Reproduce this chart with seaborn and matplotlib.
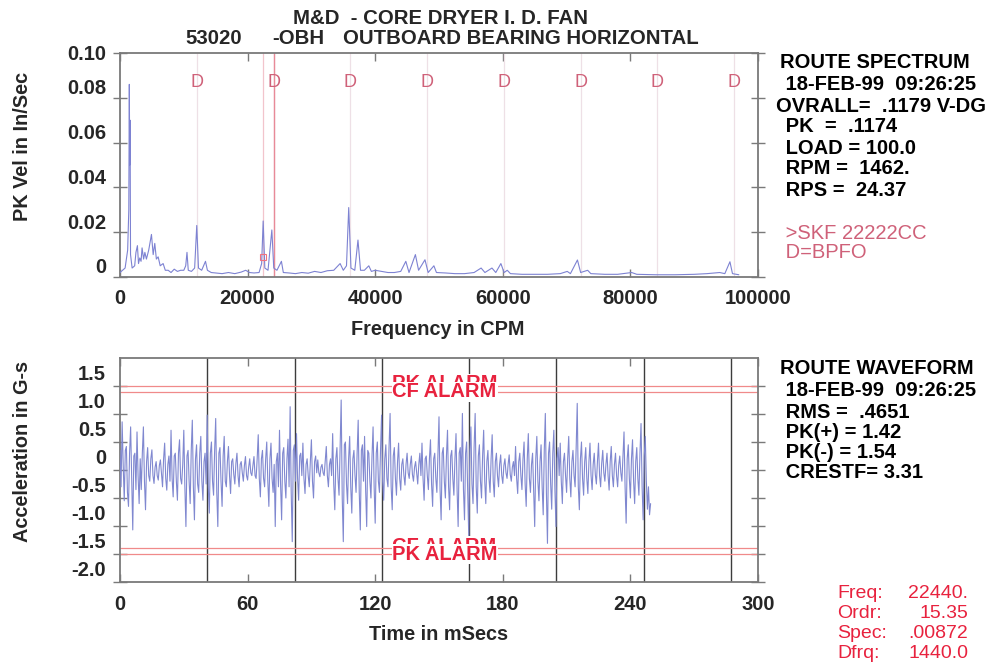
import numpy as np
import pandas as pd
import matplotlib
matplotlib.use("Agg")
import matplotlib.pyplot as plt
import matplotlib.transforms as mtransforms
import seaborn as sns

# ---------------- data ----------------
title_line1 = "M&D  - CORE DRYER I. D. FAN"
title_id = "53020"
title_point = "-OBH"
title_desc = "OUTBOARD BEARING HORIZONTAL"

spectrum_info = ["ROUTE SPECTRUM", " 18-FEB-99  09:26:25", "OVRALL=  .1179 V-DG",
                 " PK  =  .1174", " LOAD = 100.0", " RPM =  1462.", " RPS =  24.37"]
bearing_info = [" >SKF 22222CC", " D=BPFO"]
waveform_info = ["ROUTE WAVEFORM", " 18-FEB-99  09:26:25", " RMS =  .4651",
                 " PK(+) = 1.42", " PK(-) = 1.54", " CRESTF= 3.31"]
cursor_keys = ["Freq:", "Ordr:", "Spec:", "Dfrq:"]
cursor_vals = ["22440.", "15.35", ".00872", "1440.0"]

# spectrum (CPM, in/sec pk)
spec_freq = [0, 800, 1200, 1380, 1460, 1520, 1580, 1650, 1900, 2300, 2500, 2730, 2900, 3100,
             3300, 3460, 3700, 3900, 4140, 4500, 4930, 5200, 5450, 5700, 5980, 6300, 6760, 7100,
             7550, 8000, 8500, 9000, 9500, 10000, 10300, 10500, 10700, 11200, 11700, 12030, 12300,
             12800, 13400, 13700, 14300, 15000, 16000, 17000, 18000, 19000, 19700, 20300, 21000,
             21800, 22200, 22440, 22700, 23200, 23800, 24100, 24600, 25300, 25600, 26500, 27500,
             28500, 29500, 30500, 31500, 32500, 33500, 34500, 35000, 35500, 35850, 36200, 36800,
             37300, 37700, 38300, 39000, 39400, 40000, 41000, 42000, 43000, 44000, 44800, 45300,
             46300, 46800, 47800, 48300, 49200, 49600, 51000, 52500, 54000, 55500, 56600, 57200,
             58300, 58900, 59700, 60200, 60700, 61200, 63000, 65000, 67000, 69000, 70100, 70600,
             71700, 72200, 73300, 73800, 76000, 78000, 80200, 81000, 84000, 87000, 90000, 92000,
             94000, 94800, 95600, 96000, 97000]
spec_amp = [0.002, 0.004, 0.012, 0.030, 0.086, 0.050, 0.070, 0.010, 0.004, 0.005, 0.011, 0.014,
            0.006, 0.0085, 0.007, 0.013, 0.008, 0.011, 0.008, 0.012, 0.019, 0.010, 0.015, 0.008,
            0.009, 0.005, 0.006, 0.003, 0.003, 0.002, 0.0035, 0.0025, 0.003, 0.003, 0.005, 0.011,
            0.003, 0.0025, 0.004, 0.023, 0.004, 0.003, 0.007, 0.003, 0.002, 0.0018, 0.0015, 0.002,
            0.0015, 0.0022, 0.003, 0.002, 0.0018, 0.002, 0.006, 0.025, 0.004, 0.003, 0.021, 0.004,
            0.003, 0.007, 0.002, 0.0018, 0.0015, 0.002, 0.0017, 0.0025, 0.002, 0.0028, 0.003,
            0.006, 0.003, 0.005, 0.031, 0.004, 0.003, 0.0165, 0.003, 0.003, 0.005, 0.0025, 0.003,
            0.0025, 0.002, 0.002, 0.0025, 0.007, 0.002, 0.010, 0.003, 0.0077, 0.002, 0.005, 0.002,
            0.0018, 0.0015, 0.0015, 0.002, 0.004, 0.002, 0.004, 0.002, 0.006, 0.002, 0.003, 0.0015,
            0.0012, 0.0012, 0.0012, 0.0015, 0.0025, 0.0015, 0.0076, 0.002, 0.003, 0.0015, 0.0012,
            0.0012, 0.002, 0.0012, 0.001, 0.001, 0.0012, 0.0015, 0.002, 0.0015, 0.0068, 0.0015,
            0.001]

bpfo_cpm = 12030
bpfo_harmonics = [1, 2, 3, 4, 5, 6, 7, 8]
marked_harmonic = 2
cursor_freq = 22440
cursor_spec = 0.00872

rpm = 1462
revolutions = [1, 2, 3, 4, 5, 6, 7]
alarm_pk = 1.5
alarm_cf = 1.4

# waveform (G-s): samples on whole ms ...
wave_dt_ms = 0.5
wave_g = [
    0.35, 0.86, -0.55, 0.42, -0.65, 0.77, -1.07, 0.30, 0.68, -0.60,
    -0.35, 0.77, -0.71, 0.40, -0.20, 0.36, -0.24, 0.15, -0.18, 0.18,
    -0.30, 0.48, -0.36, 0.25, 0.71, -0.48, 0.30, -0.54, 0.54, -0.25,
    0.71, -1.01, 0.35, -0.60, 0.89, -0.89, 0.45, -0.40, 0.60, -0.54,
    0.30, 0.98, -0.77, 0.50, -0.45, 0.92, -1.01, 0.40, -0.65, 0.60,
    -0.30, 0.42, -0.42, 0.20, -0.25, 0.30, -0.30, 0.15, -0.20, 0.24,
    -0.18, 0.20, -0.10, 0.24, -0.15, 0.63, -0.48, 0.35, -0.30, 0.50,
    -0.65, 0.48, -0.40, -1.01, 0.30, 0.71, -0.89, 0.40, -0.50, 0.55,
    1.13, -1.28, 0.45, 0.65, -0.54, 0.30, 0.48, -0.42, 0.20, -0.30,
    0.54, -0.50, 0.25, 0.18, -0.12, 0.10, -0.10, 0.42, -0.30, 0.20,
    0.65, -0.71, 0.40, -0.45, 1.25, -1.28, 0.50, -0.60, 0.60, -0.77,
    0.35, -0.40, 0.89, -1.07, 0.45, 0.60, -1.01, 0.30, -0.50, 0.77,
    -0.95, 0.50, -0.40, 0.98, -0.54, 0.45, -0.30, 1.01, -0.71, 0.40,
    -0.45, 0.48, -0.36, 0.20, -0.27, 0.30, -0.15, 0.25, -0.20, 0.15,
    -0.25, 0.30, 0.48, -0.54, 0.25, -0.35, 0.54, -0.65, 0.30, -0.40,
    0.95, -0.89, 0.40, -0.50, 0.71, -0.71, 0.35, -0.45, 0.65, -1.01,
    0.40, 1.01, -0.89, 0.50, -1.19, 0.77, -0.60, 1.01, -0.77, 0.45,
    -0.50, 0.71, -0.60, 0.35, -0.40, 0.63, -0.48, 0.30, -0.30, 0.27,
    -0.24, 0.20, -0.15, 0.27, -0.20, 0.15, 0.42, -0.42, 0.30, -0.35,
    0.50, -0.65, 0.65, -0.40, 0.30, -1.01, 0.60, -0.55, 0.45, -0.80,
    1.01, -1.31, 0.50, -0.70, 0.71, -1.01, 0.40, 0.48, -0.60, 0.30,
    -0.40, 0.60, -0.48, 0.35, -0.30, 1.19, -0.71, 0.50, -0.45, 0.40,
    -0.42, 0.48, -0.35, 0.30, -0.25, 0.48, -0.30, 0.35, -0.20, 0.30,
    -0.36, 0.42, -0.30, 0.30, -0.30, 0.25, -0.20, 0.68, -0.95, 0.45,
    -0.50, 0.54, -0.60, 0.40, -0.45, 0.83, -0.89, 0.60, -0.70, -0.80,
]
# ... and the samples half a ms later
wave_g_half = [
    -0.30, 0.10, 0.35, -0.40, 0.30, -0.20, 0.25, -0.35, -0.10, 0.20,
    0.30, -0.20, 0.15, -0.10, 0.20, -0.10, 0.05, -0.10, 0.08, -0.05,
    0.20, -0.15, 0.10, -0.20, -0.15, 0.25, -0.20, 0.30, -0.15, 0.10,
    -0.30, 0.25, -0.20, 0.35, -0.30, 0.20, -0.25, 0.30, -0.20, 0.15,
    -0.25, -0.30, 0.30, -0.20, 0.35, -0.40, 0.30, -0.20, 0.25, -0.20,
    0.15, -0.10, 0.15, -0.08, 0.12, -0.10, 0.10, -0.05, 0.08, -0.10,
    0.05, -0.05, 0.08, -0.10, 0.20, -0.15, 0.20, -0.15, 0.20, -0.20,
    0.20, -0.15, 0.10, 0.15, -0.30, -0.25, 0.30, -0.20, 0.20, -0.30,
    -0.40, 0.35, -0.20, -0.15, 0.25, -0.10, -0.15, 0.10, -0.10, 0.15,
    -0.20, 0.15, -0.05, -0.05, 0.05, -0.05, 0.15, -0.10, 0.10, -0.10,
    -0.25, 0.20, -0.15, 0.40, -0.50, 0.45, -0.25, 0.20, -0.30, 0.20,
    -0.10, 0.30, -0.40, 0.35, -0.20, -0.35, 0.35, -0.20, 0.25, -0.30,
    0.30, -0.20, 0.35, -0.20, 0.20, -0.15, 0.40, -0.30, 0.25, -0.15,
    0.15, -0.15, 0.10, -0.10, 0.10, -0.05, 0.10, -0.08, 0.05, -0.05,
    0.10, -0.10, -0.15, 0.20, -0.10, 0.20, -0.25, 0.20, -0.15, 0.25,
    -0.35, 0.30, -0.20, 0.25, -0.30, 0.25, -0.15, 0.20, -0.35, 0.30,
    -0.20, -0.35, 0.30, -0.40, 0.35, -0.25, 0.40, -0.30, 0.25, -0.20,
    0.25, -0.20, 0.15, -0.15, 0.20, -0.20, 0.15, -0.10, 0.10, -0.10,
    0.08, -0.05, 0.10, -0.08, 0.05, -0.10, -0.15, 0.15, -0.10, 0.20,
    -0.25, 0.20, -0.15, 0.10, -0.35, 0.20, -0.20, 0.15, -0.30, 0.35,
    -0.40, 0.30, -0.25, 0.30, -0.35, 0.20, -0.10, -0.20, 0.15, -0.10,
    0.20, -0.15, 0.15, -0.10, 0.40, -0.30, 0.20, -0.15, 0.15, -0.15,
    0.15, -0.10, 0.10, -0.08, 0.15, -0.10, 0.12, -0.05, 0.10, -0.10,
    0.15, -0.10, 0.10, -0.10, 0.08, -0.05, 0.25, -0.30, 0.20, -0.15,
    0.20, -0.20, 0.15, -0.15, 0.30, -0.30, 0.25, -0.20, -0.30, -0.60,
]

spec_xticks = [0, 20000, 40000, 60000, 80000, 100000]
spec_yticks = [0, 0.02, 0.04, 0.06, 0.08, 0.10]
spec_yticklabels = ["0", "0.02", "0.04", "0.06", "0.08", "0.10"]
wave_xticks = [0, 60, 120, 180, 240, 300]
wave_yticks = [-2.0, -1.5, -1.0, -0.5, 0, 0.5, 1.0, 1.5]
wave_yticklabels = ["-2.0", "-1.5", "-1.0", "-0.5", "0", "0.5", "1.0", "1.5"]

# ---------------- style ----------------
sns.set_theme(style="white")
plt.rcParams["font.family"] = ["Liberation Sans", "DejaVu Sans"]
plt.rcParams["font.weight"] = "bold"
plt.rcParams["axes.labelweight"] = "bold"

W, H = 992, 666
fig = plt.figure(figsize=(W / 100, H / 100), dpi=100)
fig.patch.set_facecolor("white")

def px_ax(left, top, right, bottom):
    return fig.add_axes([left / W, 1 - bottom / H, (right - left) / W, (bottom - top) / H])

ax1 = px_ax(120, 53, 758, 277)
ax2 = px_ax(120, 358, 758, 582)

SPEC_C = "#7d82d2"
WAVE_C = "#8088d0"
RED = "#e8223e"
PINK = "#cf6179"
FRAME = "#7a7a7a"
FS = 14.5

# ---------------- spectrum ----------------
spec_df = pd.DataFrame({"freq": spec_freq, "amp": spec_amp})
for h in bpfo_harmonics:
    ax1.axvline(h * bpfo_cpm, color="#eee0e6", lw=0.9, zorder=1)
    ax1.text(h * bpfo_cpm, 0.87, "D", transform=ax1.get_xaxis_transform(), ha="center",
             va="center", color=PINK, fontsize=13, fontweight="normal", zorder=4)
ax1.axvline(cursor_freq, color="#f2c4cc", lw=0.9, zorder=1)
ax1.axvline(marked_harmonic * bpfo_cpm, color="#e88a98", lw=1.0, zorder=2)
sns.lineplot(data=spec_df, x="freq", y="amp", ax=ax1, color=SPEC_C, lw=0.8,
             estimator=None, sort=False, zorder=3)
ax1.plot([cursor_freq], [cursor_spec], marker="s", ms=4, mfc="none", mec="#f07080",
         mew=0.8, zorder=4)
ax1.set_xlim(0, 100000)
ax1.set_ylim(0, 0.10)
ax1.set_xticks(spec_xticks)
ax1.set_xticklabels([str(v) for v in spec_xticks])
ax1.set_yticks(spec_yticks)
ax1.set_yticklabels(spec_yticklabels)
ax1.set_xlabel("Frequency in CPM", fontsize=14.3)
ax1.set_ylabel("PK Vel in In/Sec", fontsize=14.3)
ax1.xaxis.set_label_coords(0.498, -0.19)
ax1.yaxis.set_label_coords(-0.138, 0.585)

# ---------------- waveform ----------------
wave_vals = np.column_stack([wave_g, wave_g_half]).ravel()
wave_df = pd.DataFrame({"t": np.arange(len(wave_vals)) * wave_dt_ms, "g": wave_vals})
period_ms = 60000.0 / rpm
for k in revolutions:
    ax2.axvline(k * period_ms, color="#3c3c3c", lw=1.0, zorder=2)
for lev in (alarm_pk, alarm_cf, -alarm_cf, -alarm_pk):
    ax2.axhline(lev, color="#f08a8a", lw=0.9, zorder=2)
sns.lineplot(data=wave_df, x="t", y="g", ax=ax2, color=WAVE_C, lw=0.8,
             estimator=None, sort=False, zorder=3)
box = dict(boxstyle="square,pad=0.02", fc="white", ec="none")
lift = mtransforms.ScaledTranslation(0, 1.5 / 72, fig.dpi_scale_trans)
ax2.text(128, alarm_pk, "PK ALARM", color=RED, fontsize=FS, va="center", ha="left",
         bbox=box, zorder=5, transform=ax2.transData + lift)
ax2.text(128, alarm_cf, "CF ALARM", color=RED, fontsize=FS, va="center", ha="left",
         bbox=box, zorder=6)
ax2.text(128, -alarm_cf, "CF ALARM", color=RED, fontsize=FS, va="center", ha="left",
         bbox=box, zorder=5, transform=ax2.transData + lift)
ax2.text(128, -alarm_pk, "PK ALARM", color=RED, fontsize=FS, va="center", ha="left",
         bbox=box, zorder=6)
ax2.set_xlim(0, 300)
ax2.set_ylim(-2.0, 2.0)
ax2.set_xticks(wave_xticks)
ax2.set_xticklabels([str(v) for v in wave_xticks])
ax2.set_yticks(wave_yticks)
ax2.set_yticklabels(wave_yticklabels)
ax2.set_xlabel("Time in mSecs", fontsize=14.3)
ax2.set_ylabel("Acceleration in G-s", fontsize=14.3)
ax2.xaxis.set_label_coords(0.50, -0.19)
ax2.yaxis.set_label_coords(-0.138, 0.585)

# ---------------- frames & ticks ----------------
for ax in (ax1, ax2):
    for s in ax.spines.values():
        s.set_color(FRAME)
        s.set_linewidth(1.3)
        s.set_visible(True)
    ax.tick_params(axis="y", direction="inout", length=10, width=1, color=FRAME,
                   left=True, right=True, labelsize=FS, pad=5)
    ax.tick_params(axis="x", direction="in", length=6, width=1, color=FRAME,
                   bottom=True, top=True, labelsize=FS, pad=9)
    ax.grid(False)

# label offsets as in the scanned original
up1 = mtransforms.ScaledTranslation(0, 8 / 72, fig.dpi_scale_trans)
for lbl in ax1.get_yticklabels()[:-1]:
    lbl.set_transform(lbl.get_transform() + up1)
up2 = mtransforms.ScaledTranslation(0, 10 / 72, fig.dpi_scale_trans)
for lbl in ax2.get_yticklabels():
    lbl.set_transform(lbl.get_transform() + up2)

# ---------------- header & side texts ----------------
def ftext(x, y, s, **kw):
    fig.text(x / W, 1 - y / H, s, va="center", **kw)

ftext(293, 18, title_line1, fontsize=14.7)
ftext(185, 38, title_id, fontsize=14.7)
ftext(272, 38, title_point, fontsize=14.7)
ftext(343, 38, title_desc, fontsize=14.7)

for s, y in zip(spectrum_info, [63, 85, 106, 127, 148, 169, 191]):
    ftext(776 if s.startswith("O") else 780, y, s, fontsize=FS, color="black")
for s, y in zip(bearing_info, [233, 253]):
    ftext(780, y, s, fontsize=FS, color=PINK, fontweight="normal")
for s, y in zip(waveform_info, [369, 391, 412, 432, 453, 473]):
    ftext(780, y, s, fontsize=FS, color="black")
for k, v, y in zip(cursor_keys, cursor_vals, [593, 613, 633, 653]):
    ftext(837, y, k, fontsize=14, color=RED, fontweight="normal")
    ftext(968, y, v, fontsize=14, color=RED, fontweight="normal", ha="right")

fig.savefig("out.png", dpi=100, facecolor="white")
